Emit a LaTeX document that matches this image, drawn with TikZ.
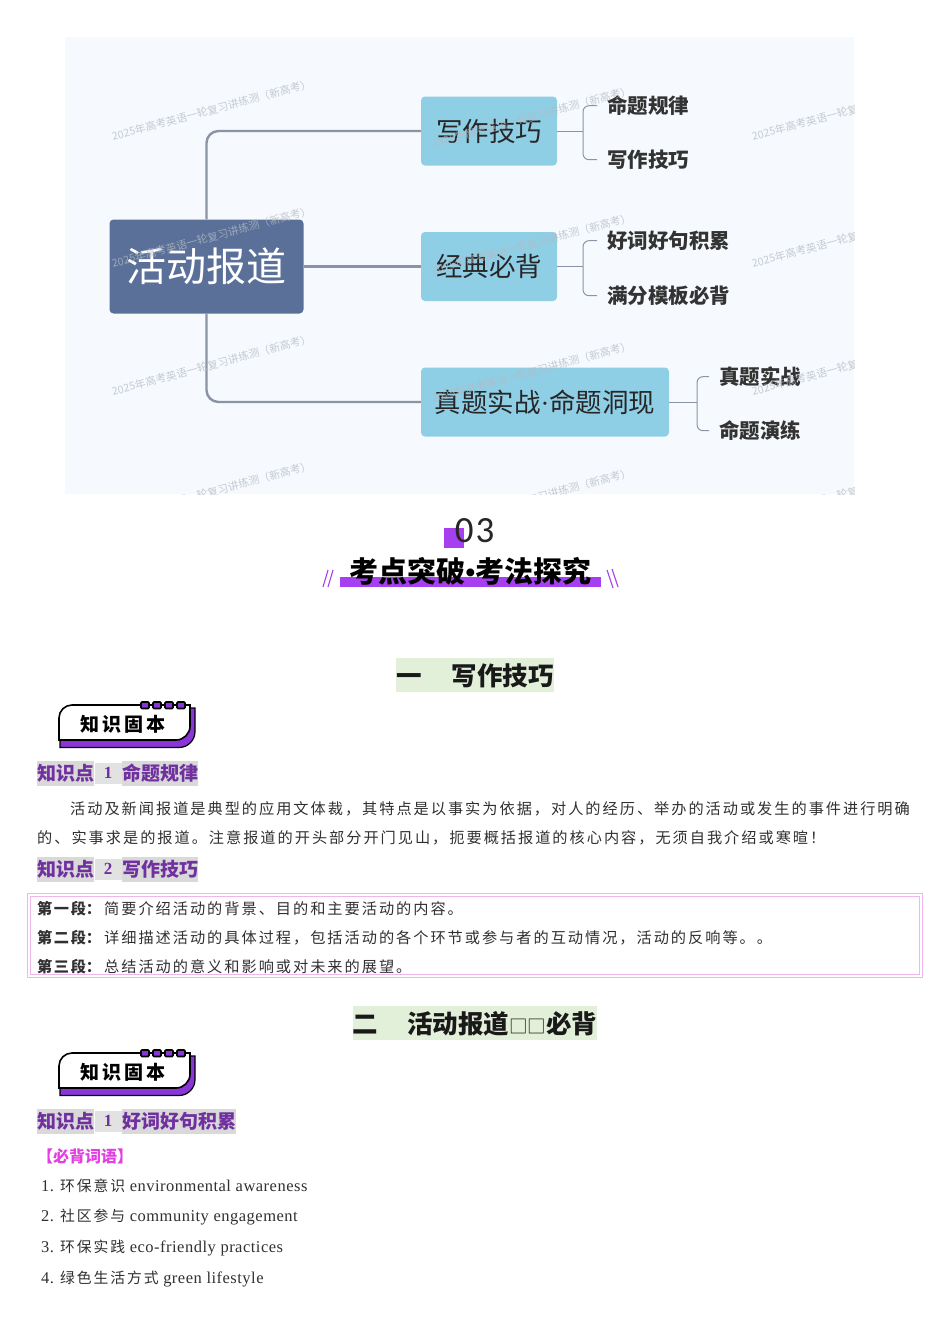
\documentclass[tikz,border=0pt]{standalone}
\usepackage{fontspec}
\setmainfont{Liberation Serif}
\newfontfamily\cjk{Noto Sans CJK SC}
\newfontfamily\cjkbody[LetterSpace=13]{Noto Sans CJK SC}
\newfontfamily\latbody[LetterSpace=3]{Liberation Serif}
\newfontfamily\numfont{Carlito}
\newcommand{\fs}[1]{\fontsize{#1}{#1}\selectfont}
\definecolor{panelbg}{HTML}{F6FAFE}
\definecolor{rootblue}{HTML}{5A7099}
\definecolor{branchblue}{HTML}{8FCFE6}
\definecolor{linegray}{HTML}{8A94A6}
\definecolor{markgray}{HTML}{B4BAC2}
\definecolor{barpurple}{HTML}{A63FF0}
\definecolor{badgepurple}{HTML}{8A35D6}
\definecolor{titlegreen}{HTML}{E2EFD9}
\definecolor{kpgray}{HTML}{D9D9D9}
\definecolor{kppurple}{HTML}{7030A0}
\definecolor{framepink}{HTML}{F0B4EE}
\definecolor{wordpink}{HTML}{E23FE0}
\definecolor{bodygray}{HTML}{303030}
\tikzset{
  rootnode/.style={fill=rootblue, rounded corners=4pt, minimum width=194pt, minimum height=94pt, inner sep=0pt, text=white, font=\cjk\fs{40}},
  branchnode/.style={fill=branchblue, rounded corners=4pt, minimum height=69pt, inner sep=0pt, text=black!85, font=\cjk\fs{26.5}},
  leafnode/.style={anchor=west, inner sep=0pt, inner xsep=10pt, text=black!80, font=\cjk\bfseries\fs{20.5}},
  mapline/.style={draw=linegray, line width=2.4pt, rounded corners=12pt},
  leafline/.style={draw=linegray, line width=1pt},
  markstyle/.style={rotate=15, text=markgray, opacity=0.75, inner sep=0pt, font=\cjk\fs{10.7}},
  sectitle/.style={fill=titlegreen, inner sep=0pt, minimum height=34pt, text=black!90, font=\cjk\bfseries\fs{25.5}},
  kpfill/.style={fill=kpgray, anchor=west, inner sep=0pt, text height=17pt, text depth=4pt, minimum height=25pt, text=kppurple, font=\cjk\bfseries\fs{19}},
  kpnum/.style={fill=kpgray!75, inner sep=0pt, text height=15pt, text depth=6pt, minimum width=27pt, text=kppurple, font=\bfseries\fs{17}},
  bodytext/.style={anchor=west, inner sep=0pt, text=bodygray, font=\cjkbody\fs{15.2}},
  lattext/.style={anchor=west, inner sep=0pt, text=bodygray, font=\latbody\fs{16.5}},
}
\newcommand{\kpoint}[4]{%
  \node[kpfill] (#1a) at (37,#2) {知识点};
  \node[kpnum,right=0pt of #1a] (#1b) {#3\hspace{10pt}};
  \node[kpfill,right=0pt of #1b] (#1c) {#4};
}
\usetikzlibrary{positioning}
\begin{document}
\begin{tikzpicture}[x=1pt,y=-1pt]
\useasboundingbox (0,0) rectangle (950,1344);
\fill[panelbg] (65,37) rectangle (854,494);

\node[rootnode] (root) at (206.5,266.5) {活动报道};
\node[branchnode, minimum width=136pt] (skill) at (489,131) {写作技巧};
\node[branchnode, minimum width=136pt] (classic) at (489,266.5) {经典必背};
\node[branchnode, minimum width=248pt] (exam) at (545,402) {真题实战{\rmfamily ·}命题洞现};

\node[leafnode] (rule) at (597,105.7) {命题规律};
\node[leafnode] (write) at (597,159.7) {写作技巧};
\node[leafnode] (word) at (597,240.7) {好词好句积累};
\node[leafnode] (model) at (597,295.7) {满分模板必背};
\node[leafnode] (real) at (709,376.7) {真题实战};
\node[leafnode] (drill) at (709,430.7) {命题演练};

\draw[mapline] (root.north) |- (skill.west);
\draw[mapline] (root.east) -- (classic.west);
\draw[mapline] (root.south) |- (exam.west);

\coordinate (skilljoin) at (583,131);
\coordinate (classicjoin) at (583,266.5);
\coordinate (examjoin) at (697,402);
\draw[leafline] (skill.east) -- (skilljoin);
\draw[leafline] (classic.east) -- (classicjoin);
\draw[leafline] (exam.east) -- (examjoin);
\draw[leafline, rounded corners=6pt] (rule.west) -| (skilljoin) |- (write.west);
\draw[leafline, rounded corners=6pt] (word.west) -| (classicjoin) |- (model.west);
\draw[leafline, rounded corners=6pt] (real.west) -| (examjoin) |- (drill.west);

\begin{scope}
\clip (65,37) rectangle (854,494);
\foreach \ry [count=\i] in {110,237,365,492} {
  \node[markstyle] (markA\i) at (211.5,\ry) {2025年高考英语一轮复习讲练测（新高考）};
  \node[markstyle] (markB\i) at (531.5,\ry+7) {2025年高考英语一轮复习讲练测（新高考）};
  \node[markstyle] (markC\i) at (851.5,\ry) {2025年高考英语一轮复习讲练测（新高考）};
}
\end{scope}

\fill[barpurple] (444,528) rectangle (464,548);
\fill[barpurple] (340,577) rectangle (601,587);
\node[inner sep=0pt, text=black!85, font=\numfont\fs{37}] (num) at (474.5,531) {0\hspace{2pt}3};
\node[inner sep=0pt, text=black, font=\cjk\bfseries\fs{29}] (head) at (470.5,571) {考点突破{\rmfamily\bfseries •}考法探究};
\draw[barpurple, line width=1.1pt] (323,587) -- (328,570);
\draw[barpurple, line width=1.1pt] (328,587) -- (333,570);
\draw[barpurple, line width=1.1pt] (613,588) -- (607,570);
\draw[barpurple, line width=1.1pt] (618,587) -- (612,569);

\node[sectitle] (title1) at (475,675) {\raisebox{-10.5pt}[0pt][0pt]{一\hspace{30pt}写作技巧}};

\foreach \dy in {0,348} {
\begin{scope}[shift={(0,\dy)}]
\draw[black, line width=1.2pt, fill=badgepurple] (60,730) -- (60,747.5) [rounded corners=16pt] -- (195,747.5) [sharp corners] -- (195,708) -- (180,708) -- (180,730) -- cycle;
\draw[black, line width=1.6pt, fill=white] (59,740) [rounded corners=13pt] -- (59,705) [sharp corners] -- (190,705) [rounded corners=14pt] -- (190,740) [sharp corners] -- cycle;
\foreach \rx in {141,153,165,177} {
  \draw[black, line width=1.6pt, fill=badgepurple, rounded corners=1pt] (\rx,702) rectangle ++(8,6.5);
}
\node[inner sep=0pt, text=black, font=\cjk\bfseries\fs{19}] (badge\dy) at (123,724) {知\hspace{3pt}识\hspace{3pt}固\hspace{3pt}本};
\end{scope}
}

\kpoint{kpa}{773.5}{1}{命题规律}
\node[bodytext] (para1) at (70,808.7) {活动及新闻报道是典型的应用文体裁，其特点是以事实为依据，对人的经历、举办的活动或发生的事件进行明确};
\node[bodytext] (para2) at (37,837.7) {的、实事求是的报道。注意报道的开头部分开门见山，扼要概括报道的核心内容，无须自我介绍或寒暄！};
\kpoint{kpb}{869.5}{2}{写作技巧}

\node[draw=framepink, double=white, double distance=1.6pt, line width=1.3pt, minimum width=892pt, minimum height=81pt, inner sep=0pt] (frame) at (475,935.5) {};
\node[bodytext] (step1) at (37,908.7) {{\cjk\bfseries\fs{15.2}第\hspace{1.6pt}一\hspace{1.6pt}段：}\hspace{3pt}简要介绍活动的背景、目的和主要活动的内容。};
\node[bodytext] (step2) at (37,937.7) {{\cjk\bfseries\fs{15.2}第\hspace{1.6pt}二\hspace{1.6pt}段：}\hspace{3pt}详细描述活动的具体过程，包括活动的各个环节或参与者的互动情况，活动的反响等。。};
\node[bodytext] (step3) at (37,966.2) {{\cjk\bfseries\fs{15.2}第\hspace{1.6pt}三\hspace{1.6pt}段：}\hspace{3pt}总结活动的意义和影响或对未来的展望。};

\node[sectitle] (title2) at (475,1023) {\raisebox{-10.5pt}[0pt][0pt]{二\hspace{29pt}活动报道{\mdseries\fs{18.5}□□}必背}};

\kpoint{kpc}{1121.5}{1}{好词好句积累}
\node[anchor=west, inner sep=0pt, text=wordpink, font=\cjk\bfseries\fs{16}] (words) at (37,1156.5) {【必背词语】};
\node[lattext] (item1) at (41,1185.7) {1. {\cjkbody\fs{14.8}环保意识} environmental awareness};
\node[lattext] (item2) at (41,1216.7) {2. {\cjkbody\fs{14.8}社区参与} community engagement};
\node[lattext] (item3) at (41,1247.7) {3. {\cjkbody\fs{14.8}环保实践} eco-friendly practices};
\node[lattext] (item4) at (41,1278.7) {4. {\cjkbody\fs{14.8}绿色生活方式} green lifestyle};
\end{tikzpicture}
\end{document}
